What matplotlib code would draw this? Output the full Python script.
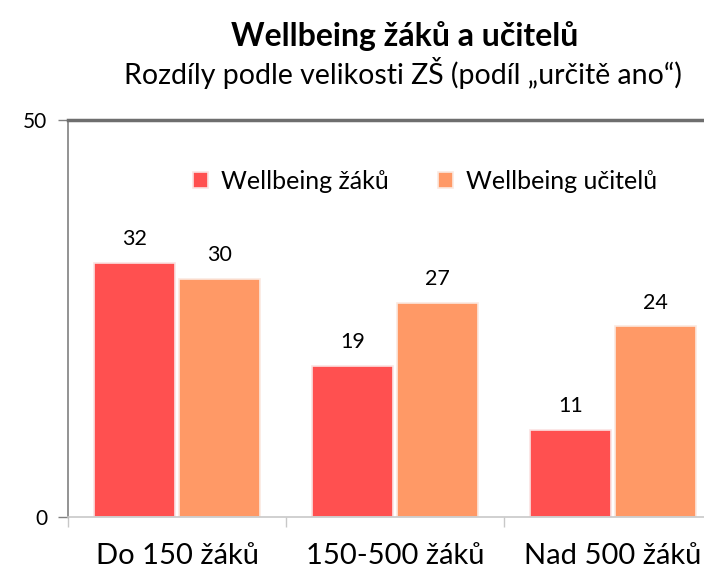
import matplotlib.pyplot as plt
import numpy as np

categories = ['Do 150 žáků', '150-500 žáků', 'Nad 500 žáků']
zaci = [32, 19, 11]
ucitele = [30, 27, 24]
series_names = ['Wellbeing žáků', 'Wellbeing učitelů']

plt.rcParams['font.family'] = ['Lato', 'DejaVu Sans']

fig = plt.figure(figsize=(7.04, 5.71), dpi=100)
# axes right edge runs a little past the figure, as in the original
ax = fig.add_axes([68/704, 54/571, 654/704, 397/571])

x = np.arange(len(categories))
w = 0.372
b1 = ax.bar(x - w/2 - 0.007, zaci, w, color='#FF5050', edgecolor='#FBE3E3', linewidth=1.2,
            label=series_names[0])
b2 = ax.bar(x + w/2 + 0.007, ucitele, w, color='#FF9966', edgecolor='#FBE9E0', linewidth=1.2,
            label=series_names[1])

for bars in (b1, b2):
    for r in bars:
        ax.annotate(str(int(r.get_height())), (r.get_x() + r.get_width()/2, r.get_height()),
                    xytext=(0, 10), textcoords='offset points', ha='center', va='bottom',
                    fontsize=15.5)

ax.set_xlim(-0.5, 2.5)
ax.set_ylim(0, 50)
ax.set_yticks([0, 50])
ax.set_xticks(x)
ax.set_xticklabels(categories, fontsize=21)
ax.set_xticks([-0.5, 0.5, 1.5, 2.5], minor=True)
ax.tick_params(axis='x', which='major', length=0, pad=19)
ax.tick_params(axis='x', which='minor', length=7, color='#C8C8C8', width=1)
ax.tick_params(axis='y', length=7, color='#808080', width=1, labelsize=15, pad=8)

ax.spines['right'].set_visible(False)
ax.spines['left'].set_color('#808080')
ax.spines['left'].set_linewidth(1.2)
ax.spines['bottom'].set_color('#C8C8C8')
ax.spines['bottom'].set_linewidth(1.2)
ax.spines['top'].set_color('#6E6E6E')
ax.spines['top'].set_linewidth(2.5)

ax.legend(loc='center', bbox_to_anchor=(0.546, 0.845), ncol=2, frameon=False,
          fontsize=18, handlelength=0.6, handleheight=0.6, handletextpad=0.5,
          columnspacing=2.0)

fig.text(0.575, 0.937, 'Wellbeing žáků a učitelů', ha='center', va='center',
         fontsize=23, fontweight='bold')
fig.text(0.572, 0.872, 'Rozdíly podle velikosti ZŠ (podíl „určitě ano“)', ha='center',
         va='center', fontsize=20.5)

fig.savefig('out.png', dpi=100)
